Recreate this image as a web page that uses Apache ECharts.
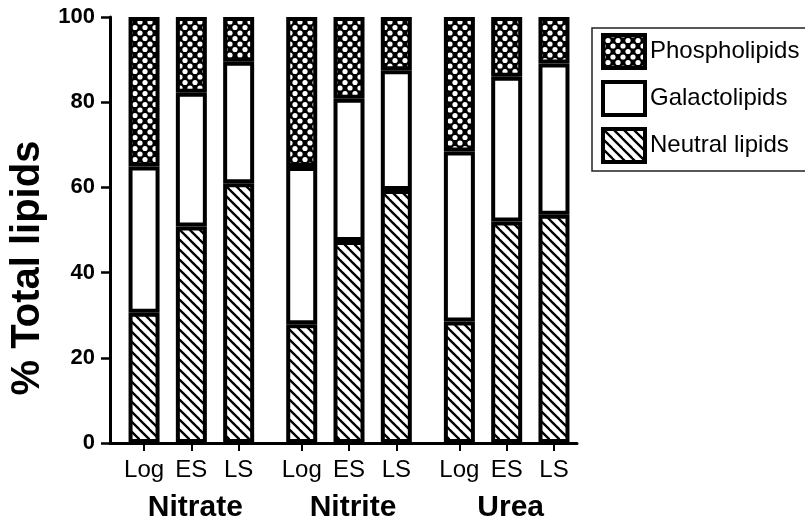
<!DOCTYPE html>
<html>
<head>
<meta charset="utf-8">
<script src="https://cdn.jsdelivr.net/npm/echarts@6/dist/echarts.min.js"></script>
<style>
html,body{margin:0;padding:0;background:#fff;}
#chart{width:805px;height:519px;}
</style>
</head>
<body>
<div id="chart"></div>
<script>
// ---- data ----
const phases = ['Log', 'ES', 'LS'];
const groups = ['Nitrate', 'Nitrite', 'Urea'];
const seriesNames = ['Neutral lipids', 'Galactolipids', 'Phospholipids'];
// values in % total lipids, order: Nitrate Log/ES/LS, Nitrite Log/ES/LS, Urea Log/ES/LS
const neutralLipids = [30.6, 50.8, 61.0, 27.9, 47.4, 59.4, 28.5, 52.0, 53.6];
const galactolipids = [34.3, 31.4, 28.5, 36.9, 33.4, 28.1, 39.9, 34.0, 35.5];
const phospholipids = [35.1, 17.8, 10.5, 35.2, 19.2, 12.5, 31.6, 14.0, 10.9];
const yMin = 0, yMax = 100, yInterval = 20;

// ---- layout helpers (positions on a numeric x scale) ----
const barStep = 3, groupStep = 10;
const xPos = [];
const xLabelMap = {};
groups.forEach((g, gi) => phases.forEach((p, pi) => {
  const x = gi * groupStep + pi * barStep;
  xPos.push(x);
  xLabelMap[x] = p;
}));
const groupPos = groups.map((g, gi) => gi * groupStep + barStep);
const groupLabelMap = {};
groupPos.forEach((x, i) => groupLabelMap[x] = groups[i]);

// ---- patterns ----
function hatchPattern() {
  const c = document.createElement('canvas');
  c.width = 10; c.height = 10;
  const ctx = c.getContext('2d');
  ctx.fillStyle = '#fff'; ctx.fillRect(0, 0, 10, 10);
  ctx.strokeStyle = '#000'; ctx.lineWidth = 2.3;
  [-10, 0, 10].forEach(o => {
    ctx.beginPath(); ctx.moveTo(o - 2, -2); ctx.lineTo(o + 12, 12); ctx.stroke();
  });
  return { image: c, repeat: 'repeat' };
}
function crossPattern() {
  const c = document.createElement('canvas');
  c.width = 10; c.height = 11;
  const ctx = c.getContext('2d');
  ctx.fillStyle = '#000'; ctx.fillRect(0, 0, 10, 11);
  ctx.fillStyle = '#fff';
  [[0, 0], [10, 0], [0, 11], [10, 11], [5, 5.5]].forEach(([x, y]) => {
    ctx.beginPath(); ctx.arc(x, y, 2.6, 0, Math.PI * 2); ctx.fill();
  });
  return { image: c, repeat: 'repeat' };
}
const fills = [hatchPattern(), '#ffffff', crossPattern()];
const values = [neutralLipids, galactolipids, phospholipids];

const font = 'Liberation Sans';
const chart = echarts.init(document.getElementById('chart'));
chart.setOption({
  animation: false,
  backgroundColor: '#fff',
  grid: { left: 110, right: 228, top: 17, bottom: 76, containLabel: false, outerBoundsMode: 'none' },
  legend: {
    orient: 'vertical',
    left: 592, top: 28,
    data: ['Phospholipids', 'Galactolipids', 'Neutral lipids'],
    icon: 'rect',
    itemWidth: 42, itemHeight: 33, itemGap: 10,
    padding: [5, 40, 7, 9],
    borderColor: '#222', borderWidth: 1.5,
    itemStyle: { borderColor: '#000', borderWidth: 4 },
    textStyle: { fontFamily: font, fontSize: 24, color: '#000' },
    selectedMode: false
  },
  xAxis: [{
    type: 'value',
    min: -2.16, max: 27.46,
    axisLine: { show: true, onZero: false, lineStyle: { color: '#000', width: 3 } },
    axisTick: { show: true, customValues: xPos, length: 8, lineStyle: { color: '#000', width: 2 } },
    axisLabel: {
      customValues: xPos, margin: 15,
      formatter: v => xLabelMap[v] || '',
      fontFamily: font, fontSize: 24, color: '#000'
    },
    splitLine: { show: false }
  }, {
    type: 'value',
    position: 'bottom',
    min: -2.16, max: 27.46,
    axisLine: { show: false },
    axisTick: { show: false },
    axisLabel: {
      customValues: groupPos, margin: 50,
      formatter: v => groupLabelMap[v] || '',
      padding: [0, 0, 0, 8],
      fontFamily: font, fontSize: 30, fontWeight: 'bold', color: '#000'
    },
    splitLine: { show: false }
  }],
  yAxis: {
    type: 'value',
    min: yMin, max: yMax, interval: yInterval,
    axisLine: { show: true, onZero: false, lineStyle: { color: '#000', width: 3 } },
    axisTick: { show: true, length: 9, lineStyle: { color: '#000', width: 2.5 } },
    axisLabel: { margin: 15, fontFamily: font, fontSize: 22, fontWeight: 'bold', color: '#000' },
    splitLine: { show: false }
  },
  graphic: [{
    type: 'text',
    x: 28, y: 268,
    rotation: Math.PI / 2,
    style: {
      text: '% Total lipids',
      fontFamily: font, fontSize: 40, fontWeight: 'bold',
      fill: '#000', align: 'center', verticalAlign: 'middle'
    }
  }],
  series: seriesNames.map((name, si) => ({
    name,
    type: 'bar',
    stack: 'total',
    xAxisIndex: 0,
    barWidth: 31,
    itemStyle: { color: fills[si], borderColor: '#000', borderWidth: 4 },
    emphasis: { disabled: true },
    // value first so the stacked dimension is the y value
    encode: { x: 1, y: 0 },
    data: values[si].map((v, i) => [v, xPos[i]])
  }))
});
</script>
</body>
</html>
